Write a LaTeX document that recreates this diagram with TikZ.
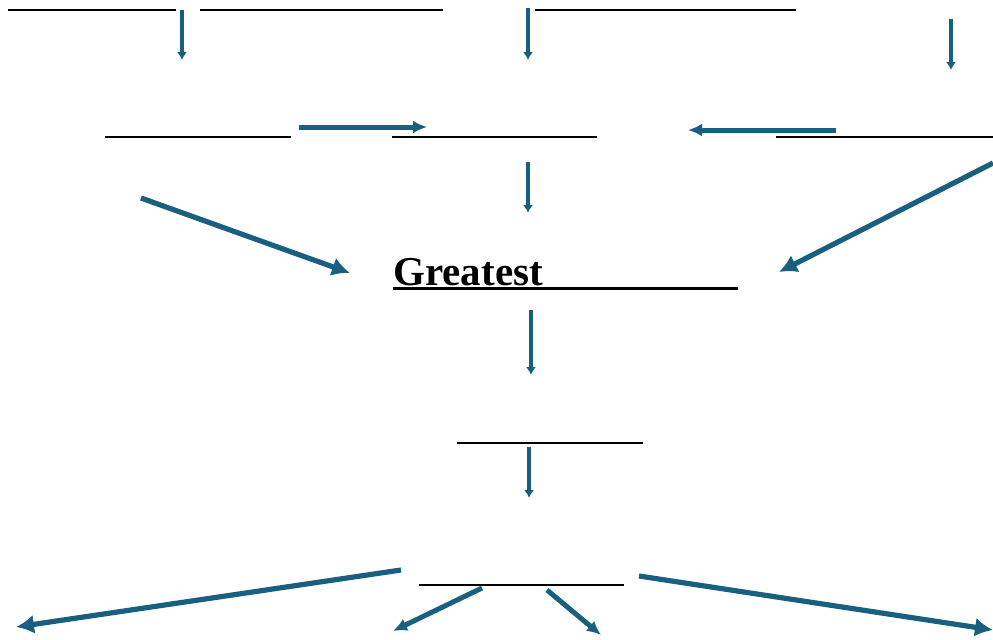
\documentclass[tikz,border=0pt]{standalone}
\usepackage{fontspec}
\setmainfont{Liberation Serif}
\usetikzlibrary{arrows.meta}
\definecolor{arrowblue}{RGB}{24,95,128}
\tikzset{blank/.style={anchor=west, inner sep=0pt}}
\tikzstyle{smallarr}=[draw=arrowblue, line width=2.2pt, -{Latex[length=4pt,width=5pt]}]
\tikzstyle{midarr}=[draw=arrowblue, line width=2.5pt, -{Latex[length=7pt,width=6.5pt]}]
\tikzstyle{bigarr}=[draw=arrowblue, line width=2.6pt, -{Latex[length=9pt,width=9.5pt]}]
\newcommand{\blankline}[1]{\rule{#1}{0.9pt}}

\begin{document}
\begin{tikzpicture}[x=0.5pt, y=-0.5pt]
\useasboundingbox (0,0) rectangle (993,639);
% blanks
\node[blank] (B1) at (8,10) {\blankline{84pt}};
\node[blank] (B2) at (200,10) {\blankline{121.5pt}};
\node[blank] (B3) at (535,10) {\blankline{130.5pt}};
\node[blank] (B4) at (105,137) {\blankline{93pt}};
\node[blank] (B5) at (392,137) {\blankline{102.5pt}};
\node[blank] (B6) at (776,137) {\blankline{108.5pt}};
\node[anchor=base west, inner sep=0pt] (G) at (393,285)
  {\fontsize{20.5}{24}\selectfont\rlap{\rule[-2.3pt]{172.5pt}{1.2pt}}\textbf{Greatest}};
\node[blank] (B7) at (457,443) {\blankline{93pt}};
\node[blank] (B8) at (419,585) {\blankline{102.5pt}};

% arrow ends
\coordinate (a1s) at (182,10);  \coordinate (a1e) at (182,60);
\coordinate (a2s) at (528,8);   \coordinate (a2e) at (528,60);
\coordinate (a3s) at (951,19);  \coordinate (a3e) at (951,70);
\coordinate (a4s) at (299,127); \coordinate (a4e) at (427,127);
\coordinate (a5s) at (836,130); \coordinate (a5e) at (688,130);
\coordinate (a6s) at (528,162); \coordinate (a6e) at (528,213);
\coordinate (a7s) at (141,198); \coordinate (a7e) at (350,273);
\coordinate (a8s) at (993,163); \coordinate (a8e) at (779,272);
\coordinate (a9s) at (531,310); \coordinate (a9e) at (531,375);
\coordinate (a10s) at (529,447); \coordinate (a10e) at (529,498);
\coordinate (a11s) at (401,570); \coordinate (a11e) at (16,627);
\coordinate (a12s) at (482,588); \coordinate (a12e) at (393,631);
\coordinate (a13s) at (547,590); \coordinate (a13e) at (601,635);
\coordinate (a14s) at (639,576); \coordinate (a14e) at (993,630);

\draw[smallarr] (a1s) -- (a1e);
\draw[smallarr] (a2s) -- (a2e);
\draw[smallarr] (a3s) -- (a3e);
\draw[midarr] (a4s) -- (a4e);
\draw[midarr] (a5s) -- (a5e);
\draw[smallarr] (a6s) -- (a6e);
\draw[bigarr] (a7s) -- (a7e);
\draw[bigarr] (a8s) -- (a8e);
\draw[smallarr] (a9s) -- (a9e);
\draw[smallarr] (a10s) -- (a10e);
\draw[bigarr] (a11s) -- (a11e);
\draw[midarr] (a12s) -- (a12e);
\draw[midarr] (a13s) -- (a13e);
\draw[bigarr] (a14s) -- (a14e);
\end{tikzpicture}
\end{document}
